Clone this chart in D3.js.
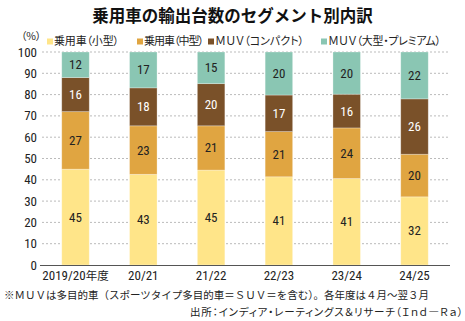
<!DOCTYPE html>
<html><head><meta charset="utf-8">
<script src="https://cdn.jsdelivr.net/npm/d3@7"></script>
<style>
body{margin:0;background:#fff;}
svg{display:block;}
.jp{font-family:"Noto Sans CJK JP","Noto Sans",sans-serif;}
.palt{font-feature-settings:"palt";}
.num{font-family:"Liberation Sans Narrow","Roboto Condensed","DejaVu Sans Condensed",sans-serif;}
</style>
</head><body>
<svg id="c" width="465" height="321"></svg>
<script>
const categories = ["2019/20年度","20/21","21/22","22/23","23/24","24/25"];
const seriesNames = ["乗用車（小型）","乗用車（中型）","ＭＵＶ（コンパクト）","ＭＵＶ（大型・プレミアム）"];
const small   = [45,43,45,41,41,32];
const medium  = [27,23,21,21,24,20];
const compact = [16,18,20,17,16,26];
const large   = [12,17,15,20,20,22];
const yTicks  = [0,10,20,30,40,50,60,70,80,90,100];
const colors  = ["#FFE589","#E0A541","#7A5129","#8AC6B3"];
const labelColors = ["#222","#222","#fff","#222"];

const svg = d3.select("#c");
const keys = ["small","medium","compact","large"];
const rows = categories.map((c,i)=>({cat:c,small:small[i],medium:medium[i],compact:compact[i],large:large[i]}));
const stack = d3.stack().keys(keys).offset(d3.stackOffsetExpand);
const layers = stack(rows);

const x = d3.scaleBand().domain(categories).range([41.6,448.4]).padding(0);
const bw = 27.5;
const y = d3.scaleLinear().domain([0,1]).range([265,52]);
const yAx = d3.scaleLinear().domain([0,100]).range([265,52]);

// grid
svg.append("g").selectAll("line").data(yTicks.filter(t=>t>0)).join("line")
  .attr("x1",42).attr("x2",450).attr("y1",d=>yAx(d)).attr("y2",d=>yAx(d))
  .attr("stroke","#bbb").attr("stroke-width",1).attr("stroke-dasharray","2,2");

// y tick labels
svg.append("g").selectAll("text").data(yTicks).join("text")
  .attr("class","num").attr("x",37).attr("y",d=>yAx(d)+4.5)
  .attr("text-anchor","end").attr("font-size",13).attr("fill","#222").text(d=>d);

// bars
layers.forEach((layer,li)=>{
  const g = svg.append("g");
  g.selectAll("rect").data(layer).join("rect")
    .attr("x",d=>x(d.data.cat)+x.bandwidth()/2-bw/2)
    .attr("width",bw)
    .attr("y",d=>y(d[1]))
    .attr("height",d=>y(d[0])-y(d[1]))
    .attr("fill",colors[li])
    .attr("stroke","rgba(255,255,255,0.35)").attr("stroke-width",0.8);
  g.selectAll("text").data(layer).join("text")
    .attr("class","num")
    .attr("x",d=>x(d.data.cat)+x.bandwidth()/2)
    .attr("y",d=>(y(d[0])+y(d[1]))/2+4.5)
    .attr("text-anchor","middle").attr("font-size",13)
    .attr("fill",labelColors[li])
    .text(d=>d.data[keys[li]]);
});

// axis baseline
svg.append("line").attr("x1",40).attr("x2",450).attr("y1",265.5).attr("y2",265.5)
  .attr("stroke","#555").attr("stroke-width",1);

// x labels
svg.append("g").selectAll("text").data(categories).join("text")
  .attr("class","num")
  .attr("x",d=>x(d)+x.bandwidth()/2).attr("y",280)
  .attr("text-anchor","middle").attr("font-size",13).attr("fill","#222")
  .each(function(d){
    const m = d.match(/^([0-9\/]+)(.*)$/);
    d3.select(this).append("tspan").text(m[1]);
    if(m[2]) d3.select(this).append("tspan").attr("class","jp").attr("font-size",11.5).text(m[2]);
  });

// title
svg.append("text").attr("class","jp").attr("x",232.5).attr("y",22)
  .attr("text-anchor","middle").attr("font-size",16.5).attr("font-weight","bold")
  .attr("fill","#111").text("乗用車の輸出台数のセグメント別内訳");

// (%)
svg.append("text").attr("class","jp palt").attr("x",21).attr("y",40)
  .attr("font-size",10.5).attr("fill","#222").text("（%）");

// legend
const legX = [47,137,208,321];
const legW = [65,60,89,113];
seriesNames.forEach((n,i)=>{
  svg.append("rect").attr("x",legX[i]).attr("y",38.5).attr("width",6).attr("height",6).attr("fill",colors[i]);
  svg.append("text").attr("class","jp palt").attr("x",legX[i]+7).attr("y",45)
    .attr("font-size",11).attr("fill","#222")
    .attr("textLength",legW[i]).attr("lengthAdjust","spacing").text(n);
});

// footnotes
svg.append("text").attr("class","jp").attr("x",4).attr("y",299)
  .attr("font-size",10.5).attr("fill","#222")
  .text("※ＭＵＶは多目的車（スポーツタイプ多目的車＝ＳＵＶ＝を含む）。各年度は４月～翌３月");
svg.append("text").attr("class","jp palt").attr("x",190).attr("y",316)
  .attr("font-size",10.5).attr("fill","#222")
  .attr("textLength",273).attr("lengthAdjust","spacing")
  .text("出所：インディア・レーティングス＆リサーチ（Ｉｎｄ―Ｒａ）");
</script>
</body></html>
